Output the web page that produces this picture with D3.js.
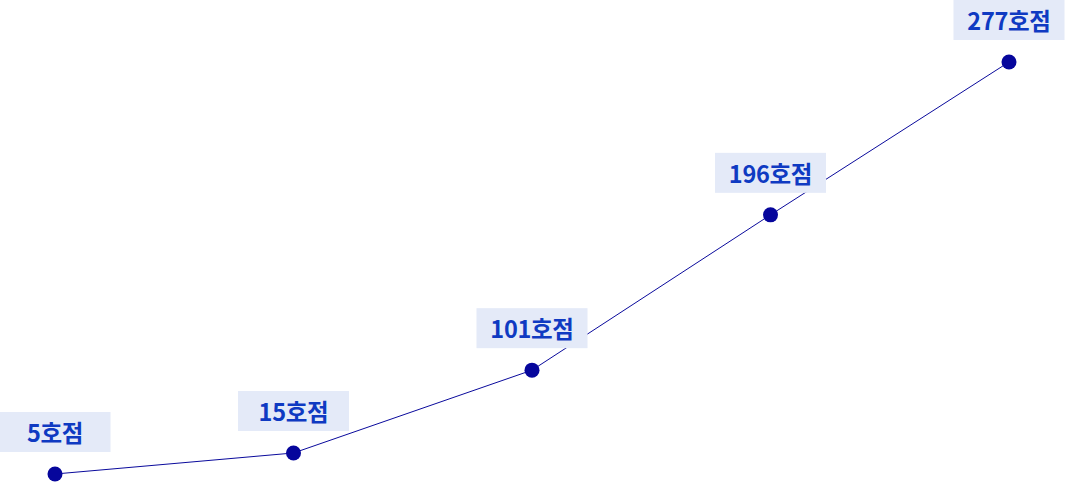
<!DOCTYPE html>
<html>
<head>
<meta charset="utf-8">
<script src="https://cdn.jsdelivr.net/npm/d3@7"></script>
<style>
  html, body { margin: 0; padding: 0; background: #ffffff; overflow: hidden; }
  svg { display: block; }
</style>
</head>
<body>
<svg id="chart" width="1065" height="482"></svg>
<script>
// Data
const categories = ["a", "b", "c", "d", "e"];
const storeCounts = [5, 15, 101, 196, 277];
const labels = ["5호점", "15호점", "101호점", "196호점", "277호점"];
// relative vertical level of each point (0–100)
const levels = [0, 5.1, 25.2, 62.9, 100];

const W = 1065, H = 482;
const svg = d3.select("#chart");

const x = d3.scalePoint().domain(categories).range([55, 1009]);
const y = d3.scaleLinear().domain([0, 100]).range([474, 62]);

const data = categories.map((c, i) => ({ c, v: storeCounts[i], label: labels[i], lv: levels[i] }));

const line = d3.line().x(d => x(d.c)).y(d => y(d.lv));

svg.append("path")
  .datum(data)
  .attr("d", line)
  .attr("fill", "none")
  .attr("stroke", "#0a0a9c")
  .attr("stroke-width", 1);

const g = svg.append("g").selectAll("g").data(data).join("g");

const boxW = 111, boxH = 40, gap = 22;
g.append("rect")
  .attr("x", d => x(d.c) - boxW / 2)
  .attr("y", d => y(d.lv) - gap - boxH)
  .attr("width", boxW)
  .attr("height", boxH)
  .attr("fill", "#e4eaf8");

g.append("text")
  .attr("x", d => x(d.c))
  .attr("y", d => y(d.lv) - gap - 10)
  .attr("text-anchor", "middle")
  .attr("font-family", "'Noto Sans CJK KR', 'Noto Sans', sans-serif")
  .attr("font-weight", 700)
  .attr("font-size", 23.5)
  .attr("letter-spacing", -0.3)
  .attr("fill", "#0f3ac2")
  .text(d => d.label);

g.append("circle")
  .attr("cx", d => x(d.c))
  .attr("cy", d => y(d.lv))
  .attr("r", 7.5)
  .attr("fill", "#06069c");
</script>
</body>
</html>
